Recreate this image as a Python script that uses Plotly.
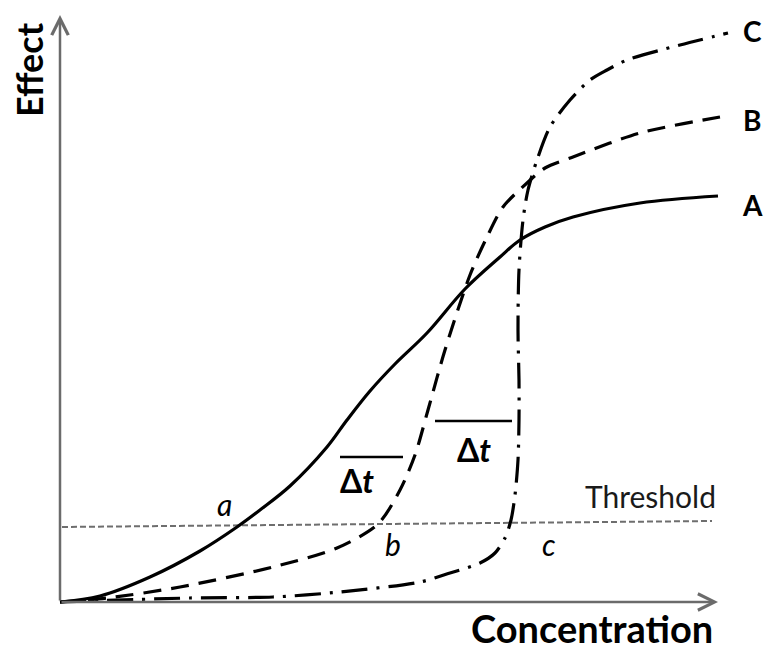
import plotly.graph_objects as go

# Data in chart units (origin at the axes' corner; 1 unit ~ 1 px)
ox, oy = 60, 602
A_px = [60, 100, 150, 200, 237, 260, 290, 327, 347, 370, 395, 427, 465, 500, 520, 545, 573, 640, 718]
A_py = [602, 596, 577, 551, 527, 510, 486, 447, 420, 391, 364, 333, 289, 257, 240, 227, 217, 203, 196]
B_px = [60, 107, 180, 273, 337, 378, 400, 415, 428, 445, 470, 487, 503, 527, 545, 573, 640, 720]
B_py = [602, 598, 587, 567, 548, 524, 490, 455, 410, 350, 275, 237, 207, 183, 168, 157, 133, 117]
C_px = [60, 190, 273, 340, 420, 450, 480, 495, 505, 511, 515, 518, 519, 519, 518, 519, 523, 528, 537, 550, 570, 590, 607, 627, 680, 728]
C_py = [602, 598, 597, 592, 582, 573, 563, 553, 538, 520, 495, 460, 420, 380, 330, 270, 220, 190, 160, 127, 100, 80, 70, 60, 45, 33]
thr_x = [62, 712]
thr_y = [527, 521]

def cx(v): return [p - ox for p in v]
def cy(v): return [oy - p for p in v]

fig = go.Figure()
fig.add_trace(go.Scatter(x=cx(thr_x), y=cy(thr_y), mode="lines",
                         line=dict(color="#6e6e6e", width=2, dash="6px,3px"), hoverinfo="skip"))
fig.add_trace(go.Scatter(x=cx(A_px), y=cy(A_py), mode="lines",
                         line=dict(color="black", width=3.2, shape="spline", smoothing=1)))
fig.add_trace(go.Scatter(x=cx(B_px), y=cy(B_py), mode="lines",
                         line=dict(color="black", width=3.2, shape="spline", smoothing=0.8, dash="18px,10px")))
fig.add_trace(go.Scatter(x=cx(C_px), y=cy(C_py), mode="lines",
                         line=dict(color="black", width=3.2, shape="spline", smoothing=0.8, dash="26px,9px,3px,9px")))

axis_col = "#6b6b6b"
# axes with arrows
fig.add_annotation(x=0, y=oy - 15, ax=0, ay=0, xref="x", yref="y", axref="x", ayref="y",
                   showarrow=True, arrowhead=5, arrowsize=1.3, arrowwidth=2.5, arrowcolor=axis_col, text="")
fig.add_annotation(x=718 - ox, y=0, ax=0, ay=0, xref="x", yref="y", axref="x", ayref="y",
                   showarrow=True, arrowhead=5, arrowsize=1.3, arrowwidth=2.5, arrowcolor=axis_col, text="")

font_b = "Lato, 'Open Sans', sans-serif"
def txt(px, py, s, size, **kw):
    fig.add_annotation(x=px - ox, y=oy - py, text=s, showarrow=False,
                       font=dict(family=font_b, size=size, color=kw.pop("color", "black")), **kw)

txt(29, 70, "<b>Effect</b>", 36, textangle=-90)
txt(592, 628, "<b>Concentration</b>", 38)
txt(752, 205, "<b>A</b>", 28)
txt(752, 120, "<b>B</b>", 28)
txt(752, 31, "<b>C</b>", 28)
txt(357, 480, "<b>Δ<i>t</i></b>", 32)
txt(474, 449, "<b>Δ<i>t</i></b>", 32)
txt(224, 504, "<i>a</i>", 30)
txt(393, 544, "<i>b</i>", 30)
txt(549, 544, "<i>c</i>", 30)
txt(650, 496, "Threshold", 30, color="#1a1a1a")

for (x0, x1, y) in [(340, 403, 457), (435, 512, 421)]:
    fig.add_shape(type="line", x0=x0 - ox, x1=x1 - ox, y0=oy - y, y1=oy - y,
                  line=dict(color="black", width=2.5))

# page body has an 8px margin: shift the view so reference pixels line up
shift = 8
fig.update_layout(width=775, height=650, margin=dict(l=0, r=0, t=0, b=0),
                  paper_bgcolor="white", plot_bgcolor="white", showlegend=False,
                  xaxis=dict(range=[-(ox - shift), 775 - (ox - shift)], visible=False, fixedrange=True),
                  yaxis=dict(range=[(oy - shift) - 650, oy - shift], visible=False, fixedrange=True))
fig.write_html("out.html")
